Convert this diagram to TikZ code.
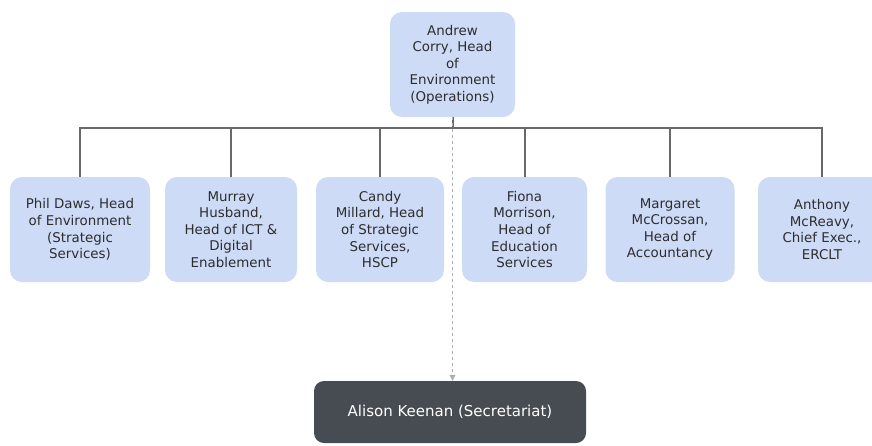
\documentclass[tikz,border=0pt]{standalone}
\usepackage{fontspec}
\setmainfont{DejaVu Sans}
\usetikzlibrary{arrows.meta}
\definecolor{boxblue}{RGB}{205,219,246}
\definecolor{darkbox}{RGB}{70,76,82}
\definecolor{linegray}{RGB}{105,105,105}
\definecolor{dashgray}{RGB}{175,175,175}
\definecolor{txtgray}{RGB}{45,45,45}
\begin{document}
\begin{tikzpicture}[x=1pt,y=-1pt,
  person/.style={draw=none, fill=boxblue, rounded corners=12pt, align=center,
    text=txtgray, font=\fontsize{13.4}{16.6}\selectfont, inner sep=0pt,
    minimum height=105pt},
  secbox/.style={draw=none, fill=darkbox, rounded corners=10pt, align=center,
    text=white, font=\fontsize{15}{18}\selectfont, inner sep=0pt,
    minimum width=272pt, minimum height=62pt},
  tree/.style={draw=linegray, line width=2pt},
  dotted link/.style={draw=dashgray, line width=1pt, dash pattern=on 3pt off 3pt,
    -{Triangle[length=6pt,width=6pt]}}]
\useasboundingbox (0,0) rectangle (872,445);
\clip (0,0) rectangle (872,445);
\fill[white] (0,0) rectangle (872,445);

\node[person, minimum width=125pt] (top) at (452.5,64.5) {Andrew\\Corry, Head\\of\\Environment\\(Operations)};

\node[person, minimum width=140pt] (b1) at (80,229.5) {Phil Daws, Head\\of Environment\\(Strategic\\Services)};
\node[person, minimum width=132pt] (b2) at (231,229.5) {Murray\\Husband,\\Head of ICT \&\\Digital\\Enablement};
\node[person, minimum width=128pt] (b3) at (380,229.5) {Candy\\Millard, Head\\of Strategic\\Services,\\HSCP};
\node[person, minimum width=125pt] (b4) at (524.5,229.5) {Fiona\\Morrison,\\Head of\\Education\\Services};
\node[person, minimum width=129pt] (b5) at (670,229.5) {Margaret\\McCrossan,\\Head of\\Accountancy};
\node[person, minimum width=128pt] (b6) at (822,229.5) {Anthony\\McReavy,\\Chief Exec.,\\ERCLT};

\node[secbox] (sec) at (450,412) {Alison Keenan (Secretariat)};

\coordinate (bus) at (0,128);
\draw[tree] (b1.north) -- (b1.north |- bus) -- (b6.north |- bus) -- (b6.north);
\draw[tree] (top.south) -- (top.south |- bus);
\foreach \n in {b2,b3,b4,b5} \draw[tree] (\n.north) -- (\n.north |- bus);

\draw[dotted link] (top.south) -- (top.south |- sec.north);
\end{tikzpicture}
\end{document}
